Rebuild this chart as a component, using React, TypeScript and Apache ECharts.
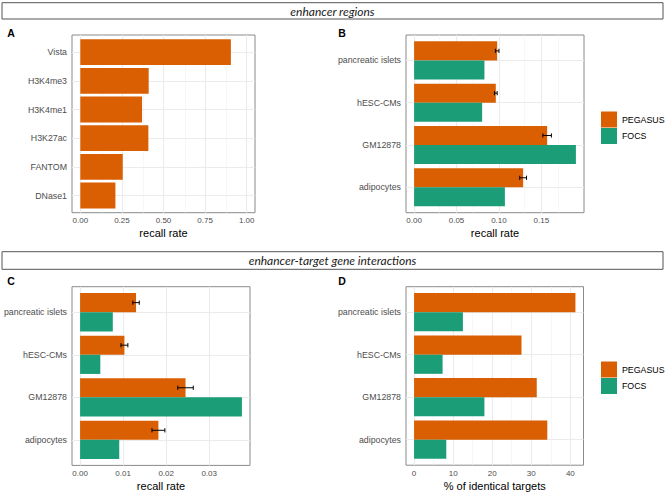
import React, { useEffect, useRef } from 'react';
import * as echarts from 'echarts';

const ORANGE = '#D95F02';
const GREEN = '#1B9E77';
const FONT = 'Liberation Sans, Arial, Helvetica, sans-serif';

// Panel A: enhancer regions, recall rate per source (bottom to top)
const aCategories = ['DNase1', 'FANTOM', 'H3K27ac', 'H3K4me1', 'H3K4me3', 'Vista'];
const aRecall = [0.211, 0.255, 0.409, 0.371, 0.411, 0.905];
const aTicks = [0, 0.25, 0.5, 0.75, 1];
const aMinor = [0.125, 0.375, 0.625, 0.875];

// Cell types (bottom to top)
const cellCategories = ['adipocytes', 'GM12878', 'hESC-CMs', 'pancreatic islets'];

// Panel B: enhancer regions recall rate
const bPegasus = [0.1285, 0.1568, 0.0963, 0.0979];
const bPegasusErr = [0.004, 0.005, 0.0016, 0.0021];
const bFocs = [0.107, 0.1907, 0.0802, 0.0829];
const bTicks = [0, 0.05, 0.1, 0.15];
const bMinor = [0.025, 0.075, 0.125, 0.175];

// Panel C: enhancer-target interactions recall rate
const cPegasus = [0.0182, 0.0245, 0.0103, 0.013];
const cPegasusErr = [0.0015, 0.0018, 0.0008, 0.00075];
const cFocs = [0.0091, 0.0376, 0.0047, 0.0076];
const cTicks = [0, 0.01, 0.02, 0.03];
const cMinor = [0.005, 0.015, 0.025, 0.035];

// Panel D: % of identical targets
const dPegasus = [34.1, 31.4, 27.5, 41.3];
const dFocs = [8.25, 18.0, 7.3, 12.5];
const dTicks = [0, 10, 20, 30, 40];
const dMinor = [5, 15, 25, 35];

const expand = (lo: number, hi: number) => [lo - 0.05 * (hi - lo), hi + 0.05 * (hi - lo)];

const grids = [
  { left: 72, top: 35, width: 183, height: 177.7 },
  { left: 406, top: 35, width: 178, height: 177.7 },
  { left: 72, top: 286.7, width: 178, height: 178.7 },
  { left: 406, top: 286.7, width: 177.5, height: 178.5 },
];

function xAxisFor(gi: number, range: number[], ticks: number[], fmt: (v: number) => string, name: string) {
  return {
    type: 'value',
    gridIndex: gi,
    min: range[0],
    max: range[1],
    axisLine: { show: false },
    axisTick: { show: true, customValues: ticks, length: 3.5, inside: false, lineStyle: { color: '#333', width: 1 } },
    axisLabel: { show: true, customValues: ticks, formatter: fmt, color: '#4D4D4D', fontSize: 8, margin: 4, fontFamily: FONT },
    splitLine: { show: false },
    name,
    nameLocation: 'middle',
    nameGap: 15,
    nameTextStyle: { fontSize: 11, color: '#000', fontFamily: FONT, verticalAlign: 'top' },
  };
}

function yAxisFor(gi: number, cats: string[]) {
  const idx = cats.map((_, i) => i);
  return {
    type: 'value',
    gridIndex: gi,
    min: -0.6,
    max: cats.length - 1 + 0.6,
    axisLine: { show: false },
    axisTick: { show: true, customValues: idx, length: 3.5, inside: false, lineStyle: { color: '#333', width: 1 } },
    axisLabel: {
      show: true,
      customValues: idx,
      formatter: (v: number) => cats[Math.round(v)] ?? '',
      color: '#4D4D4D',
      fontSize: 8.8,
      margin: 5,
      fontFamily: FONT,
    },
    splitLine: { show: false },
  };
}

function gridLines(gi: number, major: number[], minor: number[], nCats: number) {
  const data: any[] = [];
  minor.forEach((v) => data.push({ xAxis: v, lineStyle: { color: '#F2F2F2', width: 0.6, type: 'solid' } }));
  major.forEach((v) => data.push({ xAxis: v, lineStyle: { color: '#EBEBEB', width: 1.1, type: 'solid' } }));
  for (let i = 0; i < nCats; i++) data.push({ yAxis: i, lineStyle: { color: '#EBEBEB', width: 1.1, type: 'solid' } });
  return {
    type: 'line',
    name: 'grid' + gi,
    xAxisIndex: gi,
    yAxisIndex: gi,
    data: [],
    silent: true,
    z: 1,
    markLine: { silent: true, symbol: 'none', label: { show: false }, animation: false, data },
  };
}

function barSeries(gi: number, name: string, values: number[], color: string, lo: number, hi: number) {
  return {
    type: 'custom',
    name,
    xAxisIndex: gi,
    yAxisIndex: gi,
    z: 10,
    itemStyle: { color },
    data: values.map((v, i) => [v, i]),
    encode: { x: 0, y: 1 },
    renderItem: (_p: any, api: any) => {
      const v = api.value(0);
      const i = api.value(1);
      const p0 = api.coord([0, i + hi]);
      const p1 = api.coord([v, i + lo]);
      return {
        type: 'rect',
        shape: { x: p0[0], y: p0[1], width: p1[0] - p0[0], height: p1[1] - p0[1] },
        style: { fill: color },
      };
    },
  };
}

function errSeries(gi: number, values: number[], errs: number[]) {
  return {
    type: 'custom',
    name: 'err' + gi,
    xAxisIndex: gi,
    yAxisIndex: gi,
    z: 12,
    silent: true,
    data: values.map((v, i) => [v, errs[i], i]),
    encode: { x: 0, y: 2 },
    renderItem: (_p: any, api: any) => {
      const v = api.value(0);
      const e = api.value(1);
      const i = api.value(2);
      const yc = i + 0.225;
      const cap = 0.05;
      const l = api.coord([v - e, yc]);
      const r = api.coord([v + e, yc]);
      const lt = api.coord([v - e, yc + cap]);
      const lb = api.coord([v - e, yc - cap]);
      const rt = api.coord([v + e, yc + cap]);
      const rb = api.coord([v + e, yc - cap]);
      const st = { stroke: '#000', lineWidth: 1 };
      return {
        type: 'group',
        children: [
          { type: 'line', shape: { x1: l[0], y1: l[1], x2: r[0], y2: r[1] }, style: st },
          { type: 'line', shape: { x1: lt[0], y1: lt[1], x2: lb[0], y2: lb[1] }, style: st },
          { type: 'line', shape: { x1: rt[0], y1: rt[1], x2: rb[0], y2: rb[1] }, style: st },
        ],
      };
    },
  };
}

function legendAt(top: number) {
  return {
    orient: 'vertical',
    left: 601,
    top,
    itemWidth: 16,
    itemHeight: 16,
    itemGap: 0.5,
    icon: 'rect',
    padding: 0,
    selectedMode: false,
    data: ['PEGASUS', 'FOCS'],
    textStyle: { fontSize: 8.8, color: '#000', fontFamily: FONT },
  };
}

function header(y: number, h: number, text: string) {
  return [
    {
      type: 'rect',
      shape: { x: 2, y, width: 661, height: h },
      style: { fill: '#fff', stroke: '#555', lineWidth: 1 },
    },
    {
      type: 'text',
      x: 332.5,
      y: y + h / 2 + 0.3,
      style: {
        text,
        fill: '#1a1a1a',
        fontStyle: 'italic',
        fontSize: 12,
        fontFamily: 'Lato, sans-serif',
        align: 'center',
        verticalAlign: 'middle',
      },
    },
  ];
}

function panelLetter(x: number, y: number, t: string) {
  return {
    type: 'text',
    x,
    y,
    style: { text: t, fill: '#000', fontWeight: 'bold', fontSize: 10.5, fontFamily: FONT, align: 'left', verticalAlign: 'middle' },
  };
}

export default function App() {
  const ref = useRef<HTMLDivElement>(null);
  useEffect(() => {
    document.body.style.margin = '0';
    if (!ref.current) return;
    const chart = echarts.init(ref.current, undefined, { renderer: 'svg' });
    const fmt2 = (v: number) => v.toFixed(2);
    const fmt0 = (v: number) => String(Math.round(v));
    const bRange = expand(0, Math.max(...bFocs, ...bPegasus.map((v, i) => v + bPegasusErr[i])));
    const cRange = expand(0, Math.max(...cFocs, ...cPegasus.map((v, i) => v + cPegasusErr[i])));
    const dRange = expand(0, Math.max(...dFocs, ...dPegasus));
    const option: any = {
      animation: false,
      backgroundColor: '#fff',
      grid: grids.map((g) => ({ ...g, show: true, borderColor: '#8a8a8a', borderWidth: 1, backgroundColor: 'transparent', containLabel: false })),
      xAxis: [
        xAxisFor(0, [-0.05, 1.05], aTicks, fmt2, 'recall rate'),
        xAxisFor(1, bRange, bTicks, fmt2, 'recall rate'),
        xAxisFor(2, cRange, cTicks, fmt2, 'recall rate'),
        xAxisFor(3, dRange, dTicks, fmt0, '% of identical targets'),
      ],
      yAxis: [
        yAxisFor(0, aCategories),
        yAxisFor(1, cellCategories),
        yAxisFor(2, cellCategories),
        yAxisFor(3, cellCategories),
      ],
      legend: [legendAt(111.5), legendAt(361.5)],
      series: [
        gridLines(0, aTicks, aMinor, aCategories.length),
        gridLines(1, bTicks, bMinor, cellCategories.length),
        gridLines(2, cTicks, cMinor, cellCategories.length),
        gridLines(3, dTicks, dMinor, cellCategories.length),
        barSeries(0, 'recall', aRecall, ORANGE, -0.45, 0.45),
        barSeries(1, 'PEGASUS', bPegasus, ORANGE, 0, 0.45),
        barSeries(1, 'FOCS', bFocs, GREEN, -0.45, 0),
        errSeries(1, bPegasus, bPegasusErr),
        barSeries(2, 'PEGASUS', cPegasus, ORANGE, 0, 0.45),
        barSeries(2, 'FOCS', cFocs, GREEN, -0.45, 0),
        errSeries(2, cPegasus, cPegasusErr),
        barSeries(3, 'PEGASUS', dPegasus, ORANGE, 0, 0.45),
        barSeries(3, 'FOCS', dFocs, GREEN, -0.45, 0),
      ],
      graphic: [
        ...header(2.7, 16.3, 'enhancer regions'),
        ...header(251.7, 17.6, 'enhancer-target gene interactions'),
        panelLetter(7.3, 32.5, 'A'),
        panelLetter(338.3, 32.5, 'B'),
        panelLetter(7.3, 281.2, 'C'),
        panelLetter(338.3, 281.2, 'D'),
      ],
    };
    chart.setOption(option);
    return () => chart.dispose();
  }, []);
  return <div ref={ref} style={{ width: 669, height: 494 }} />;
}
